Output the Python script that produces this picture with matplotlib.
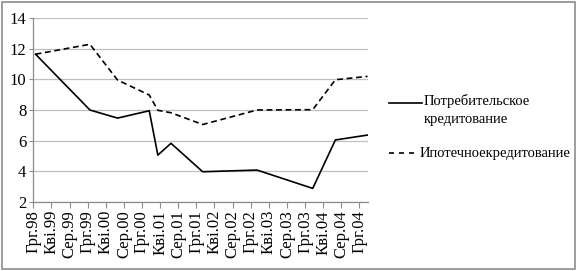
import matplotlib
matplotlib.use("Agg")
import matplotlib.pyplot as plt
from matplotlib.patches import Rectangle
from matplotlib.lines import Line2D

# --- data (x = months since December 1998) ---
months = [0.5, 12.5, 18.6, 25.6, 27.5, 30.4, 37.4, 49.4, 61.7, 66.7, 73.8]
consumer = [11.65, 8.0, 7.47, 7.95, 5.05, 5.82, 3.96, 4.07, 2.87, 6.04, 6.36]
mortgage = [11.65, 12.3, 9.96, 8.98, 7.98, 7.82, 7.05, 8.0, 8.02, 9.98, 10.2]
tick_labels = ["Грг.98", "Кві.99", "Сер.99", "Грг.99", "Кві.00", "Сер.00",
               "Грг.00", "Кві.01", "Сер.01", "Грг.01", "Кві.02", "Сер.02",
               "Грг.02", "Кві.03", "Сер.03", "Грг.03", "Кві.04", "Сер.04",
               "Грг.04"]
tick_step = 4
y_ticks = [2, 4, 6, 8, 10, 12, 14]
label_consumer = "Потребительское\nкредитование"
label_mortgage = "Ипотечноекредитование"

plt.rcParams['font.family'] = ['Liberation Serif', 'DejaVu Serif']

W, H = 577, 271
fig = plt.figure(figsize=(W / 100, H / 100), dpi=100)
fig.add_artist(Rectangle((0.003, 0.008), 0.993, 0.985, transform=fig.transFigure,
                         fill=False, edgecolor='#8c8c8c', linewidth=1.2))
ax = fig.add_axes([33.3 / W, 1 - 201.7 / H, (368 - 33.3) / W, (201.7 - 18.3) / H])

line_c, = ax.plot(months, consumer, color='black', linewidth=1.2)
line_m, = ax.plot(months, mortgage, color='black', linewidth=1.2, dashes=(3.5, 2.2))

ax.set_xlim(0, 73.9)
ax.set_ylim(2, 14)
ax.set_yticks(y_ticks)
ax.set_xticks([i * tick_step for i in range(len(tick_labels))])
ax.set_xticklabels(tick_labels, rotation=90, fontsize=12)
ax.tick_params(axis='y', labelsize=12, length=3, color='#8c8c8c', pad=2)
ax.tick_params(axis='x', length=4, color='#8c8c8c', pad=2)
ax.grid(axis='y', color='#bfbfbf', linewidth=0.9)
ax.set_axisbelow(True)
for s in ['top', 'right']:
    ax.spines[s].set_visible(False)
for s in ['left', 'bottom']:
    ax.spines[s].set_color('#8c8c8c')
    ax.spines[s].set_linewidth(0.9)

# legend drawn in figure space (Excel-style: sample aligned with first text line)
def fx(px):
    return px / W

def fy(py):
    return 1 - py / H

fig.add_artist(Line2D([fx(389), fx(422)], [fy(103), fy(103)], color='black',
                      linewidth=1.2, transform=fig.transFigure))
fig.text(fx(424), fy(103), label_consumer, fontsize=10.5, va='top',
         ha='left', linespacing=1.55,
         transform=fig.transFigure).set_y(fy(94))
fig.add_artist(Line2D([fx(389), fx(418)], [fy(153), fy(153)], color='black',
                      linewidth=1.2, dashes=(3, 3), transform=fig.transFigure))
fig.text(fx(420), fy(153), label_mortgage, fontsize=10.5, va='center',
         ha='left', transform=fig.transFigure)

fig.savefig("out.png", dpi=100)
